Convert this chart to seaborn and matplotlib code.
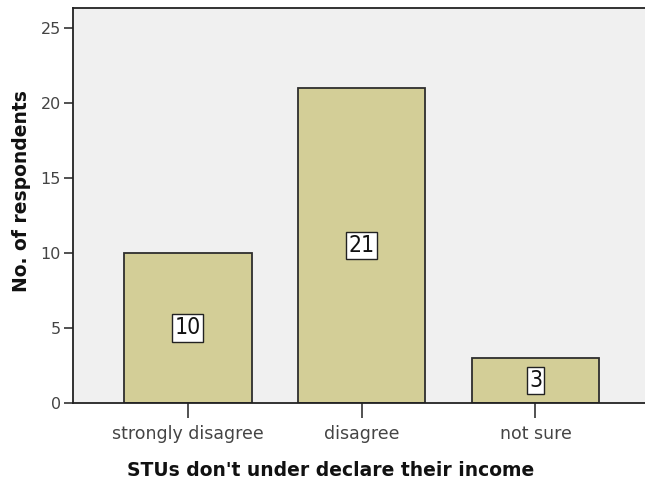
import matplotlib
matplotlib.use("Agg")
import matplotlib.pyplot as plt
import seaborn as sns
import pandas as pd

categories = ["strongly disagree", "disagree", "not sure"]
counts = [10, 21, 3]
y_ticks = [0, 5, 10, 15, 20, 25]

sns.set_style("white")
plt.rcParams['font.family'] = ['DejaVu Sans']

df = pd.DataFrame({"category": categories, "count": counts})

fig = plt.figure(figsize=(6.45, 4.87), dpi=100)
ax = fig.add_axes([0.113, 0.1725, 0.887, 0.811])
ax.set_facecolor("#F0F0F0")

sns.barplot(data=df, x="category", y="count", ax=ax, color="#D3CE97",
            saturation=1, width=0.735, edgecolor="#2e2e2e", linewidth=1.3)

for p, v in zip(ax.patches, counts):
    ax.text(p.get_x() + p.get_width() / 2, p.get_height() / 2, str(v),
            ha="center", va="center", fontsize=16.5, color="#111111",
            fontstretch="condensed",
            bbox=dict(boxstyle="square,pad=0.1", facecolor="white",
                      edgecolor="#222222", linewidth=1.0))

ax.set_xlim(-0.66, 2.63)
ax.set_ylim(0, 26.33)
ax.set_yticks(y_ticks)
ax.set_yticklabels([str(t) for t in y_ticks])

ax.spines["right"].set_visible(False)
for s in ["left", "bottom", "top"]:
    ax.spines[s].set_color("#222222")
    ax.spines[s].set_linewidth(1.3)

ax.tick_params(axis="y", direction="out", length=6.5, width=1.2,
               color="#333333", labelsize=11.5, labelcolor="#444444", pad=2,
               left=True)
ax.tick_params(axis="x", direction="out", length=11, width=1.2,
               color="#333333", labelsize=12.5, labelcolor="#444444", pad=5,
               bottom=True)

ax.set_xlabel("STUs don't under declare their income", fontsize=13.5,
              fontweight="bold", color="#111111")
ax.set_ylabel("No. of respondents", fontsize=13.5, fontweight="bold",
              color="#111111")
ax.xaxis.set_label_coords(0.451, -0.147)
ax.yaxis.set_label_coords(-0.074, 0.537)

fig.savefig("out.png", dpi=100, facecolor="white")
